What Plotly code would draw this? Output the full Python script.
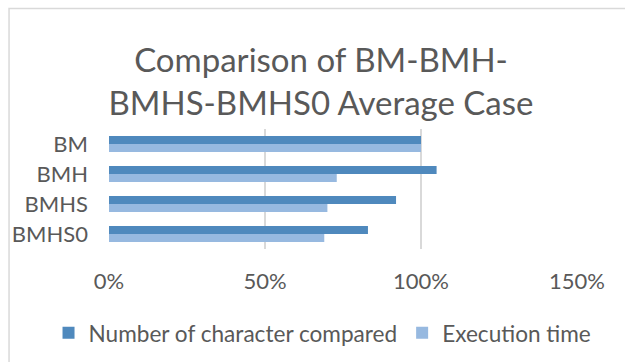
import plotly.graph_objects as go

categories = ["BM", "BMH", "BMHS", "BMHS0"]
chars_compared = [100, 105, 92, 83]
exec_time = [100, 73, 70, 69]
x_ticks = [0, 50, 100, 150]
x_tick_labels = ["0%", "50%", "100%", "150%"]
series_names = ["Number of character compared", "Execution time"]

W, H = 625, 362
L, R, T, B = 108.5, 48.3, 129, 113
pw = W - L - R
ph = H - T - B

def px(x):
    return (x - L) / pw

def py(y):
    return (H - B - y) / ph

FONT = "Lato"
TXT = "#595959"

fig = go.Figure()
fig.add_trace(go.Bar(y=categories, x=chars_compared, orientation="h",
                     name=series_names[0], marker=dict(color="#4F89BD", line=dict(width=0))))
fig.add_trace(go.Bar(y=categories, x=exec_time, orientation="h",
                     name=series_names[1], marker=dict(color="#97B9E0", line=dict(width=0))))

fig.update_layout(
    width=W, height=H,
    margin=dict(l=L, r=R, t=T, b=B, pad=0, autoexpand=False),
    paper_bgcolor="white", plot_bgcolor="white",
    barmode="group", bargap=0.47, bargroupgap=0,
    font=dict(family=FONT, color=TXT, size=22),
    title=dict(text="Comparison of BM-BMH-<br>BMHS-BMHS0 Average Case",
               x=321 / W, xanchor="center", xref="container",
               y=1 - 72 / H, yanchor="middle", yref="container",
               font=dict(family=FONT, size=33, color=TXT)),
    legend=dict(orientation="h", xref="paper", yref="paper",
                x=px(48), xanchor="left",
                y=py(333), yanchor="middle",
                font=dict(family=FONT, size=22.6, color=TXT),
                traceorder="normal", itemwidth=30),
    showlegend=True,
    xaxis=dict(range=[0, 150], tickvals=x_ticks, ticktext=x_tick_labels,
               showgrid=True, gridcolor="#D9D9D9", gridwidth=1.5,
               zeroline=False, showline=False, ticks="",
               ticklabelstandoff=17, automargin=False,
               tickfont=dict(family=FONT, size=22, color=TXT)),
    yaxis=dict(autorange="reversed", showgrid=False, zeroline=False,
               showline=False, ticks="", ticklabelstandoff=20, automargin=False,
               tickfont=dict(family=FONT, size=22, color=TXT)),
    shapes=[dict(type="rect", xref="paper", yref="paper",
                 x0=px(8.5), x1=px(660), y0=py(400), y1=py(8.5),
                 line=dict(color="#D9D9D9", width=1.5), fillcolor="rgba(0,0,0,0)",
                 layer="below")],
)

fig.write_html("out.html")
